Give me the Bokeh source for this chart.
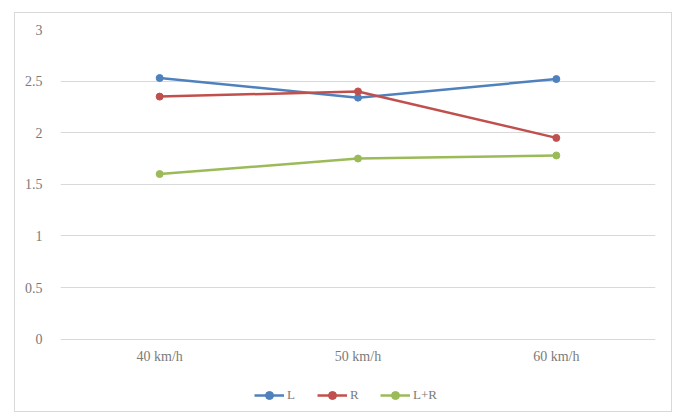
from bokeh.plotting import figure
from bokeh.models import Range1d, FixedTicker, Legend, LegendItem, ColumnDataSource
from bokeh.core.properties import value
from bokeh.embed import file_html
from bokeh.resources import INLINE

categories = ["40 km/h", "50 km/h", "60 km/h"]
L = [2.53, 2.34, 2.52]
R = [2.35, 2.40, 1.95]
LR = [1.60, 1.75, 1.78]
series_names = ["L", "R", "L+R"]
colors = ["#4F81BD", "#C0504D", "#9BBB59"]
y_ticks = [0, 0.5, 1, 1.5, 2, 2.5, 3]

FONT = "Liberation Serif"
TXT = "#7a7a7a"

p = figure(width=658, height=400, x_range=categories, y_range=Range1d(-0.70, 3),
           output_backend="svg", toolbar_location=None,
           min_border_left=45, min_border_right=18, min_border_top=16, min_border_bottom=2)
p.styles = {"margin-left": "14px", "margin-top": "12px", "border": "1px solid #d9d9d9"}
p.outline_line_color = None
p.background_fill_color = "white"
p.border_fill_color = "white"

p.yaxis.ticker = FixedTicker(ticks=y_ticks)
p.yaxis.major_label_overrides = {0: "0", 0.5: "0.5", 1: "1", 1.5: "1.5", 2: "2", 2.5: "2.5", 3: "3"}
p.yaxis.axis_line_color = None
p.yaxis.major_tick_line_color = None
p.yaxis.minor_tick_line_color = None
p.yaxis.major_label_text_font = FONT
p.yaxis.major_label_text_font_size = "14px"
p.yaxis.major_label_text_color = TXT
p.yaxis.major_label_standoff = 12

p.xaxis.visible = False
p.xgrid.grid_line_color = None
p.ygrid.grid_line_color = "#d9d9d9"
p.ygrid.grid_line_width = 1

# category labels, placed just below the zero line
lab_src = ColumnDataSource(dict(x=categories, y=[-0.17] * len(categories), t=categories))
p.text("x", "y", text="t", source=lab_src, text_align="center", text_baseline="middle",
       text_font=value(FONT), text_font_size="14px", text_color=TXT)

items = []
for name, vals, c in zip(series_names, [L, R, LR], colors):
    ln = p.line(categories, vals, line_color=c, line_width=2.5)
    sc = p.scatter(categories, vals, size=7, fill_color=c, line_color=c)
    items.append(LegendItem(label=name, renderers=[ln, sc]))

legend = Legend(items=items, orientation="horizontal", location=(194, 6),
                label_text_font=FONT, label_text_font_size="13px", label_text_color=TXT,
                border_line_color=None, background_fill_alpha=0,
                glyph_width=30, spacing=10, label_standoff=3, padding=4, margin=0)
p.add_layout(legend, "center")

open("out.html", "w").write(file_html(p, INLINE))
